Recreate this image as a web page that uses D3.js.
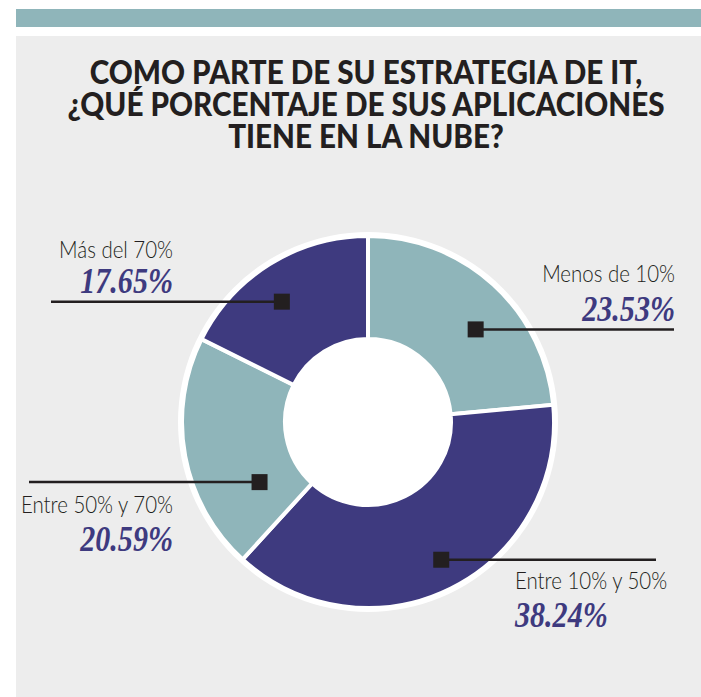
<!DOCTYPE html>
<html><head><meta charset="utf-8">
<script src="https://cdn.jsdelivr.net/npm/d3@7"></script>
<style>html,body{margin:0;padding:0;background:#fff;}svg{display:block;}</style>
</head><body>
<script>
const titleLines = ["COMO PARTE DE SU ESTRATEGIA DE IT,", "¿QUÉ PORCENTAJE DE SUS APLICACIONES", "TIENE EN LA NUBE?"];
const categories = ["Menos de 10%", "Entre 10% y 50%", "Entre 50% y 70%", "Más del 70%"];
const values = [23.53, 38.24, 20.59, 17.65];
const valueLabels = ["23.53%", "38.24%", "20.59%", "17.65%"];

const W = 701, H = 697;
const teal = "#8FB5BA", navy = "#3E3A7F", panel = "#EDEDED", ink = "#231F20";
const sliceColors = [teal, navy, teal, navy];

// label layout: marker polar (deg from top, radius), leader end x, text anchor side
const layout = [
  {ang: 49.3, rad: 142, lineTo: 674, anchor: "end",   tx: 675, ly: -47, py: -8},
  {ang: 152,  rad: 156, lineTo: 656, anchor: "start", tx: 515, ly: 29,  py: 67},
  {ang: 241,  rad: 124, lineTo: 29,  anchor: "end",   tx: 173, ly: 31,  py: 69},
  {ang: 324.4,rad: 148, lineTo: 51,  anchor: "end",   tx: 173, ly: -44, py: -9}
];

const svg = d3.select("body").append("svg").attr("width", W).attr("height", H);
svg.append("rect").attr("x", 16).attr("y", 9).attr("width", W - 16).attr("height", 18).attr("fill", teal);
svg.append("rect").attr("x", 16).attr("y", 36).attr("width", W - 16).attr("height", H - 36).attr("fill", panel);

titleLines.forEach((t, i) => {
  svg.append("g").attr("transform", `translate(366,${84 + i * 32}) scale(1.04,1.1)`)
    .append("text").attr("text-anchor", "middle")
    .attr("font-family", "Lato, 'Open Sans', sans-serif").attr("font-weight", 900)
    .attr("font-size", 28.5).attr("fill", ink).text(t);
});

const cx = 368, cy = 422, rOuter = 186, rInner = 83;
const g = svg.append("g").attr("transform", `translate(${cx},${cy})`);
g.append("circle").attr("r", rOuter + 4).attr("fill", "#fff");

const pie = d3.pie().sort(null).value(d => d)(values);
const arc = d3.arc().innerRadius(rInner).outerRadius(rOuter);
g.selectAll("path.slice").data(pie).join("path").attr("class", "slice")
  .attr("d", arc).attr("fill", (d, i) => sliceColors[i])
  .attr("stroke", "#fff").attr("stroke-width", 4).attr("stroke-linejoin", "miter");
g.append("circle").attr("r", rInner - 1).attr("fill", "#fff");

categories.forEach((c, i) => {
  const L = layout[i];
  const a = L.ang * Math.PI / 180;
  const mx = cx + L.rad * Math.sin(a), my = cy - L.rad * Math.cos(a);
  svg.append("line").attr("x1", mx).attr("y1", my).attr("x2", L.lineTo).attr("y2", my)
    .attr("stroke", ink).attr("stroke-width", 2.5);
  svg.append("rect").attr("x", mx - 8).attr("y", my - 8).attr("width", 16).attr("height", 16).attr("fill", ink);
  svg.append("g").attr("transform", `translate(${L.tx},${my + L.ly}) scale(0.87,1)`)
    .append("text").attr("text-anchor", L.anchor)
    .attr("font-family", "Lato, sans-serif").attr("font-weight", 300).attr("font-size", 23.5)
    .attr("fill", ink).text(c);
  svg.append("g").attr("transform", `translate(${L.tx},${my + L.py}) scale(0.86,1)`)
    .append("text").attr("text-anchor", L.anchor)
    .attr("font-family", "'Liberation Serif', serif").attr("font-weight", "bold").attr("font-style", "italic")
    .attr("font-size", 35).attr("fill", navy).text(valueLabels[i]);
});
</script>
</body></html>
